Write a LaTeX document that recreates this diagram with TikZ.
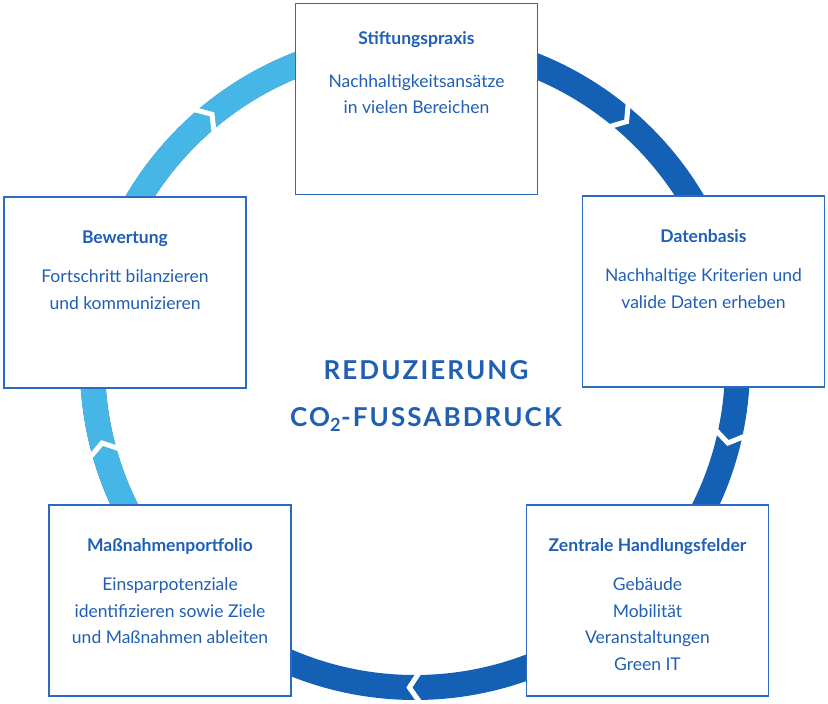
\documentclass[tikz,border=0pt]{standalone}
\usepackage{fontspec}
\setmainfont{Lato}
\newfontfamily\spacedfont[LetterSpace=8]{Lato}
\usetikzlibrary{positioning}
\definecolor{boxblue}{HTML}{2A6BC1}
\definecolor{txtblue}{HTML}{1F5FB4}
\definecolor{ringdark}{HTML}{1460B5}
\definecolor{ringlight}{HTML}{45B6E5}

\begin{document}
\begin{tikzpicture}[x=1pt,y=1pt,
  box/.style={draw=boxblue,line width=1.4pt,fill=white,minimum width=242pt,minimum height=191pt,inner sep=0pt},
  ttl/.style={font=\fontsize{17.5}{20}\selectfont\bfseries,text=txtblue,inner sep=0pt,text height=13pt,text depth=0pt},
  body/.style={font=\fontsize{17.5}{26.5}\selectfont,text=txtblue,align=center,inner sep=0pt},
  gap/.style={white,line width=5pt,miter limit=10}]
  \useasboundingbox (0,0) rectangle (828,704);
  \coordinate (M) at (415,339);
  \begin{scope}[shift={(M)}]
    \fill[ringdark,even odd rule] (0,0) circle (335) (0,0) circle (310);
    \fill[ringlight] (90:335) arc[start angle=90,end angle=225,radius=335]
      -- (225:310) arc[start angle=225,end angle=90,radius=310] -- cycle;
    \foreach \a in {129,49,-14,-91,194}
      \draw[gap] (\a+2:339) -- (\a:322.5) -- (\a+2:306);
  \end{scope}
  \node[box] (stift) at (416.5,605) {};
  \node[box] (daten) at (703.5,412.5) {};
  \node[box] (bewert) at (125,411.5) {};
  \node[box] (mass) at (170,103.5) {};
  \node[box] (zentral) at (647.5,103.5) {};
  \node[ttl,below=29pt of stift.north] (stiftT) {Stiftungspraxis};
  \node[body,below=29pt of stiftT.south] {Nachhaltigkeitsansätze\\in vielen Bereichen};
  \node[ttl,below=34pt of daten.north] (datenT) {Datenbasis};
  \node[body,below=26pt of datenT.south] {Nachhaltige Kriterien und\\valide Daten erheben};
  \node[ttl,below=34pt of bewert.north] (bewertT) {Bewertung};
  \node[body,below=26pt of bewertT.south] {Fortschritt bilanzieren\\und kommunizieren};
  \node[ttl,below=34pt of mass.north] (massT) {Maßnahmenportfolio};
  \node[body,below=26pt of massT.south] {Einsparpotenziale\\identifizieren sowie Ziele\\und Maßnahmen ableiten};
  \node[ttl,below=34pt of zentral.north] (zentralT) {Zentrale Handlungsfelder};
  \node[body,below=26pt of zentralT.south] {Gebäude\\Mobilität\\Veranstaltungen\\Green IT};
  \node[font=\spacedfont\bfseries\fontsize{26}{47}\selectfont,text=txtblue,align=center] (ziel) at (426,308)
    {REDUZIERUNG\\CO\textsubscript{2}-FUSSABDRUCK};
\end{tikzpicture}
\end{document}
